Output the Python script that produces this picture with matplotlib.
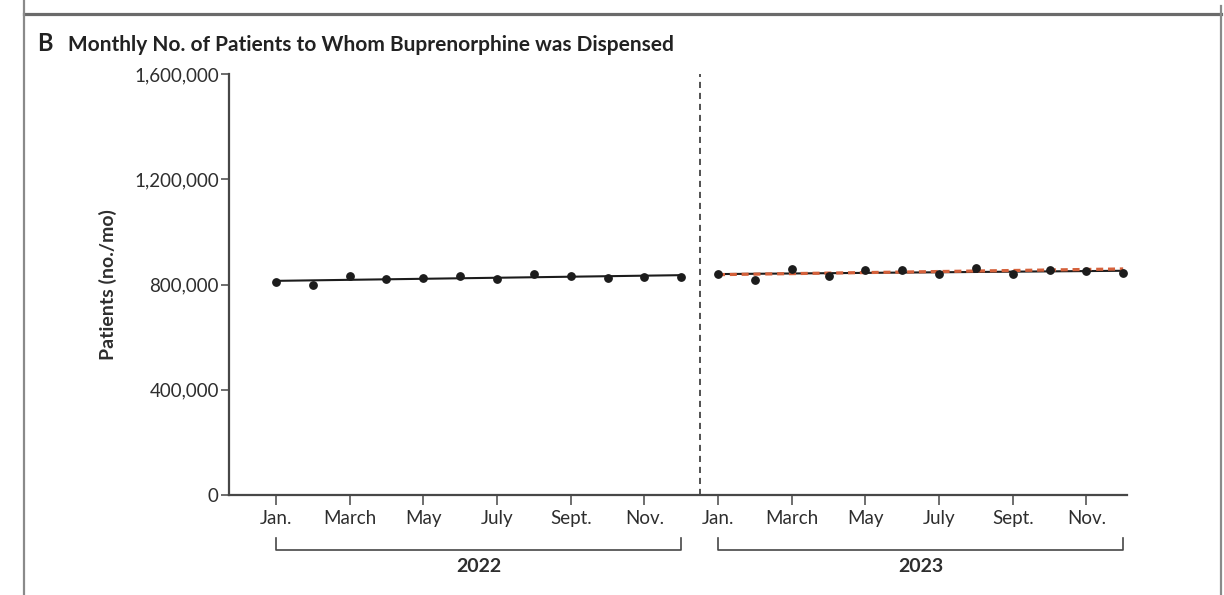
import numpy as np
import matplotlib.pyplot as plt
import matplotlib.ticker as mticker
import matplotlib.transforms as mtransforms
from matplotlib.lines import Line2D

plt.rcParams['font.family'] = ['Lato', 'DejaVu Sans']

# monthly patient counts, Jan.-Dec.
months = ['Jan.', 'Feb.', 'March', 'April', 'May', 'June',
          'July', 'Aug.', 'Sept.', 'Oct.', 'Nov.', 'Dec.']
years = ['2022', '2023']
patients_2022 = [809100, 796200, 833100, 820500, 826600, 832000,
                 821700, 839600, 832000, 826600, 828200, 830400]
patients_2023 = [840700, 817900, 859700, 832000, 855900, 853300,
                 841800, 860900, 840700, 854800, 849500, 843400]
yticks = [0, 400000, 800000, 1200000, 1600000]

idx22 = np.arange(12)
idx23 = np.arange(12, 24)

# linear trends; the 2022 trend is carried forward into 2023
fit22 = np.polyfit(idx22, patients_2022, 1)
fit23 = np.polyfit(idx23, patients_2023, 1)

W, H = 1224, 595
fig = plt.figure(figsize=(W / 100, H / 100), dpi=100)
ax = fig.add_axes([229 / W, 100 / H, 898 / W, 421 / H])

dark = '#1c1c1c'
axis_col = '#474747'
text_col = '#2e2e2e'

ax.plot(idx22, np.polyval(fit22, idx22), color=dark, lw=1.5, zorder=3)
ax.plot(idx23, np.polyval(fit22, idx23), color='#D5613B', lw=2.3,
        dashes=(2.2, 1.5), zorder=4)
ax.plot(idx23, np.polyval(fit23, idx23), color=dark, lw=1.5, zorder=3)
ax.plot(idx22, patients_2022, 'o', color=dark, ms=5.3, zorder=5)
ax.plot(idx23, patients_2023, 'o', color=dark, ms=5.3, zorder=5)

ax.axvline(11.5, color='#222222', lw=1.1, dashes=(4.0, 3.2))

ax.set_xlim(-1.276, 23.104)
ax.set_ylim(0, 1600000)
ax.set_yticks(yticks)
ax.yaxis.set_major_formatter(mticker.FuncFormatter(lambda v, p: f'{int(v):,}'))
ax.set_xticks(list(idx22[::2]) + list(idx23[::2]))
ax.set_xticklabels(months[::2] * 2)

for side in ['top', 'right']:
    ax.spines[side].set_visible(False)
for side in ['left', 'bottom']:
    ax.spines[side].set_color(axis_col)
    ax.spines[side].set_linewidth(1.6)

ax.tick_params(axis='x', length=7.2, width=1.1, color=axis_col, pad=3.5,
               labelsize=13.5, labelcolor=text_col)
ax.tick_params(axis='y', length=5.8, width=1.1, color=axis_col, pad=1.5,
               labelsize=13.5, labelcolor=text_col)

ax.set_ylabel('Patients (no./mo)', fontsize=14, fontweight='bold',
              color=text_col, labelpad=12)

# year brackets under the month labels
trans = mtransforms.blended_transform_factory(ax.transData, ax.transAxes)
for yr, idx in zip(years, [idx22, idx23]):
    x0, x1 = idx[0], idx[-1]
    ax.plot([x0, x0, x1, x1], [-0.102, -0.1306, -0.1306, -0.102],
            color=axis_col, lw=1.2, transform=trans, clip_on=False)
    ax.text((x0 + x1) / 2, -0.171, yr, transform=trans, ha='center',
            va='center', fontsize=14, fontweight='bold', color=text_col)

# panel title
fig.text(37 / W, 1 - 51 / H, 'B', fontsize=17, fontweight='bold',
         color='#222222', va='baseline')
fig.text(68 / W, 1 - 51 / H,
         'Monthly No. of Patients to Whom Buprenorphine was Dispensed',
         fontsize=15, fontweight='bold', color='#222222', va='baseline')

# panel frame
def px_line(xs, ys, **kw):
    fig.add_artist(Line2D([x / W for x in xs], [1 - y / H for y in ys],
                          transform=fig.transFigure, **kw))

px_line([24, 1221], [14, 14], color='#6a6a6a', lw=2.3)
px_line([24, 24], [0, H], color='#8a8a8a', lw=1.6)
px_line([1220.5, 1220.5], [6, H], color='#8a8a8a', lw=1.6)

fig.savefig('out.png', dpi=100)
